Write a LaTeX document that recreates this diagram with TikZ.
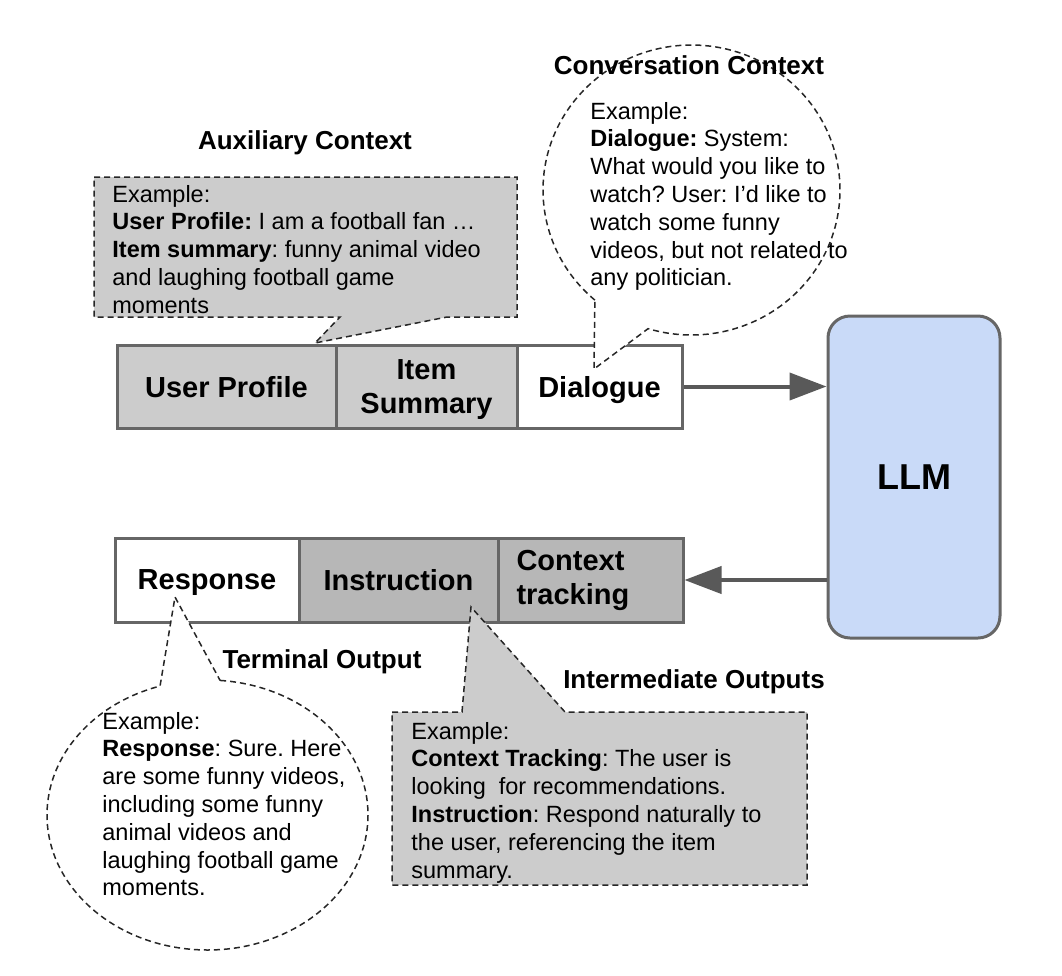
\documentclass[tikz,border=0pt]{standalone}
\usepackage{fontspec}
\setmainfont{Liberation Sans}
\usepackage{xcolor}
\usepackage{tikz}
\usetikzlibrary{arrows.meta, calc}
\definecolor{LightGrey}{RGB}{204,204,204}
\definecolor{MidGrey}  {RGB}{183,183,183}
\definecolor{EdgeGrey} {RGB}{102,102,102}
\definecolor{ArrowGrey}{RGB}{89, 89, 89}
\definecolor{LlmBlue}  {RGB}{201,218,248}
\frenchspacing

\begin{document}
\begin{tikzpicture}[x=0.5pt, y=-0.5pt,
    cellbox/.style={draw=EdgeGrey, line width=1.5pt, inner sep=0pt, align=center, text depth=0pt,
      font=\fontsize{14.5}{17}\selectfont\bfseries},
    callout/.style={draw=black!85, line width=0.75pt, dash pattern=on 3pt off 2pt},
    bodytext/.style={anchor=north west, inner sep=0pt, align=left,
      font=\fontsize{11.75}{13.9}\selectfont},
    headtext/.style={font=\fontsize{13}{15}\selectfont\bfseries},
    flowarrow/.style={draw=ArrowGrey, line width=2pt, -{Triangle[length=18.5pt, width=13.5pt]}}]
  \useasboundingbox (0,0) rectangle (1062,976);

  % input row
  \foreach \nm/\cx/\cellw/\clr/\lbl in {userprof/226.5/109.5/LightGrey/{User Profile},
      itemsum/426.5/90.5/LightGrey/{Item\\Summary}, dialog/599.5/82.5/white/{Dialogue}}{
    \node[cellbox, fill=\clr, minimum width=\cellw pt, minimum height=41.5pt] (\nm) at (\cx,386.5) {\lbl};
  }
  % output row
  \node[cellbox, fill=white, minimum width=92pt, minimum height=42pt] (resp) at (207,580) {Response};
  \node[cellbox, fill=MidGrey, minimum width=99.5pt, minimum height=42pt] (instr) at (398.5,580) {Instruction};
  \node[cellbox, fill=MidGrey, minimum width=92.5pt, minimum height=42pt, text width=74pt, align=left,
    text depth={}] (ctxtrack) at (590.5,580) {Context\\tracking};

  \node[draw=EdgeGrey, line width=1.5pt, fill=LlmBlue, rounded corners=11pt, minimum width=86pt,
    minimum height=161pt, font=\fontsize{18}{21}\selectfont\bfseries] (llm) at (914,477) {LLM};

  \draw[flowarrow] (dialog.east) -- (dialog.east -| llm.west);
  \draw[flowarrow] (llm.west |- ctxtrack.east) -- (ctxtrack.east);

  % callouts
  \coordinate (auxtip)  at (315,343);
  \coordinate (convtip) at (594,369);
  \coordinate (resptip) at (175,597);
  \coordinate (insttip) at (471,607);

  \draw[callout, fill=LightGrey] (94,177) -- (517,177) -- (517,317) -- (447,317) -- (auxtip)
    -- (340,317) -- (94,317) -- cycle;
  \draw[callout, fill=white] (691.5,190) ++(130.6:148.5 and 145)
    arc[start angle=130.6, end angle=467, x radius=148.5, y radius=145] -- (convtip) -- cycle;
  \draw[callout, fill=white] (207.5,815) ++(274.5:160.5 and 135)
    arc[start angle=274.5, end angle=612.8, x radius=160.5, y radius=135] -- (resptip) -- cycle;
  \draw[callout, fill=LightGrey] (392,712) -- (462,712) -- (insttip) -- (565,712) -- (807,712)
    -- (807,885) -- (392,885) -- cycle;

  \node[headtext] (auxlabel)  at (305,143) {Auxiliary Context};
  \node[headtext] (convlabel) at (689,65)  {Conversation Context};
  \node[headtext] (termlabel) at (322,662) {Terminal Output};
  \node[headtext] (intlabel)  at (694,682) {Intermediate Outputs};

  \node[bodytext] (auxtext) at (112,184.6) {Example:\\
    \textbf{User Profile:} I am a football fan …\\
    \textbf{Item summary}: funny animal video\\
    and laughing football game\\
    moments};
  \node[bodytext] (convtext) at (590,101.6) {Example:\\
    \textbf{Dialogue:} System:\\
    What would you like to\\
    watch? User: I\symbol{"0027}d like to\\
    watch some funny\\
    videos, but not related to\\
    any politician.};
  \node[bodytext] (resptext) at (102,711.6) {Example:\\
    \textbf{Response}: Sure. Here\\
    are some funny videos,\\
    including some funny\\
    animal videos and\\
    laughing football game\\
    moments.};
  \node[bodytext] (insttext) at (411,721.6) {Example:\\
    \textbf{Context Tracking}: The user is\\
    looking\ \ for recommendations.\\
    \textbf{Instruction}: Respond naturally to\\
    the user, referencing the item\\
    summary.};
\end{tikzpicture}
\end{document}
